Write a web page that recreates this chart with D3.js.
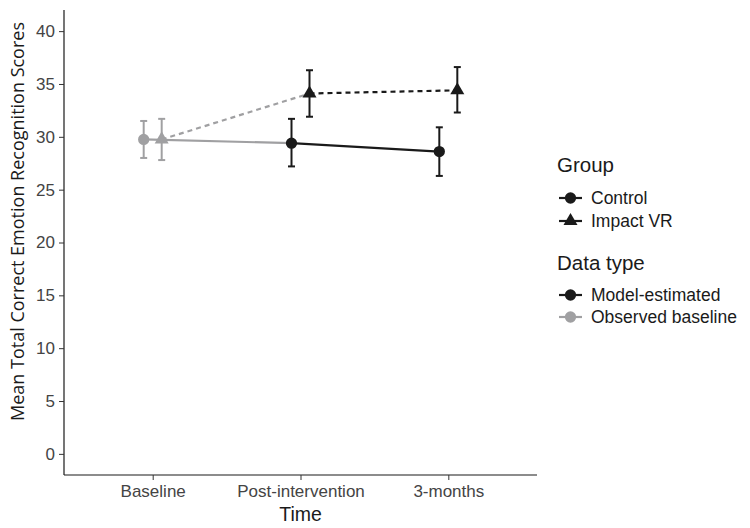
<!DOCTYPE html>
<html><head><meta charset="utf-8">
<script src="https://cdn.jsdelivr.net/npm/d3@7"></script>
<style>body{margin:0;background:#fff;} text{font-family:"Liberation Sans",Arial,sans-serif;}</style>
</head><body>
<svg id="c" width="750" height="528"></svg>
<script>
const timepoints = ["Baseline", "Post-intervention", "3-months"];
const groups = ["Control", "Impact VR"];
const controlMean = [29.75, 29.4, 28.6];
const controlLow = [28.0, 27.2, 26.3];
const controlHigh = [31.5, 31.7, 30.9];
const impactMean = [29.75, 34.1, 34.4];
const impactLow = [27.8, 31.9, 32.3];
const impactHigh = [31.7, 36.3, 36.6];
const dataTypes = ["Model-estimated", "Observed baseline"];
const yTicks = [0, 5, 10, 15, 20, 25, 30, 35, 40];

const black = "#1a1a1a", grey = "#a0a0a2";
const svg = d3.select("#c");
const L = 64, R = 537, T = 10, B = 475;

const x = d3.scalePoint().domain(timepoints).range([L, R]).padding(0.6);
const y = d3.scaleLinear().domain([-2, 42]).range([B, T]);
const dodge = d3.scaleBand().domain(groups).range([-18, 18]);
const off = g => dodge(g) + dodge.bandwidth() / 2;

// axes
const yAx = svg.append("g").attr("transform", `translate(${L},0)`)
  .call(d3.axisLeft(y).tickValues(yTicks).tickSize(5).tickPadding(4));
yAx.select(".domain").attr("d", `M0,${T}V${B}`).attr("stroke", black).attr("stroke-width", 1.2);
yAx.selectAll(".tick line").attr("stroke", "#333");
yAx.selectAll(".tick text").attr("font-size", 17).attr("fill", "#444")
   .attr("font-family", "Liberation Sans, Arial, sans-serif");

const xAx = svg.append("g").attr("transform", `translate(0,${B})`)
  .call(d3.axisBottom(x).tickSize(5).tickPadding(4));
xAx.select(".domain").attr("d", `M${L},0H${R}`).attr("stroke", black).attr("stroke-width", 1.2);
xAx.selectAll(".tick line").attr("stroke", "#333");
xAx.selectAll(".tick text").attr("font-size", 17).attr("fill", "#444")
   .attr("font-family", "Liberation Sans, Arial, sans-serif").attr("dy", "0.75em");

svg.append("text").attr("x", x("Post-intervention")).attr("y", 521).attr("text-anchor", "middle")
  .attr("font-size", 19.5).attr("fill", black).text("Time");
svg.append("text").attr("transform", `translate(24,221.5) rotate(-90)`)
  .attr("text-anchor", "middle").attr("font-size", 18).attr("fill", black)
  .style("font-family", "'Open Sans', sans-serif")
  .text("Mean Total Correct Emotion Recognition Scores");

const series = [
  {g: "Control", m: controlMean, lo: controlLow, hi: controlHigh, dash: null, shape: d3.symbolCircle},
  {g: "Impact VR", m: impactMean, lo: impactLow, hi: impactHigh, dash: "5,4", shape: d3.symbolTriangle}
];
const colorOf = i => i === 0 ? grey : black;  // baseline = observed, later = model-estimated

// lines
series.forEach(s => {
  const px = i => x(timepoints[i]) + off(s.g);
  svg.append("line").attr("x1", px(0)).attr("y1", y(s.m[0])).attr("x2", px(1)).attr("y2", y(s.m[1]))
    .attr("stroke", grey).attr("stroke-width", 2.2).attr("stroke-dasharray", s.dash);
  svg.append("line").attr("x1", px(1)).attr("y1", y(s.m[1])).attr("x2", px(2)).attr("y2", y(s.m[2]))
    .attr("stroke", black).attr("stroke-width", 2.2).attr("stroke-dasharray", s.dash);
});

// error bars and points
series.forEach(s => {
  timepoints.forEach((t, i) => {
    const cx = x(t) + off(s.g);
    const col = colorOf(i);
    const g = svg.append("g").attr("stroke", col).attr("stroke-width", 2);
    g.append("line").attr("x1", cx).attr("x2", cx).attr("y1", y(s.lo[i])).attr("y2", y(s.hi[i]));
    g.append("line").attr("x1", cx - 3.5).attr("x2", cx + 3.5).attr("y1", y(s.lo[i])).attr("y2", y(s.lo[i]));
    g.append("line").attr("x1", cx - 3.5).attr("x2", cx + 3.5).attr("y1", y(s.hi[i])).attr("y2", y(s.hi[i]));
    const size = s.shape === d3.symbolCircle ? 100 : 85;
    svg.append("path").attr("d", d3.symbol().type(s.shape).size(size)())
      .attr("transform", `translate(${cx},${y(s.m[i])})`)
      .attr("fill", col);
  });
});

// legend
const lg = svg.append("g").attr("transform", "translate(557,0)");
function title(txt, yy) {
  lg.append("text").attr("x", 0).attr("y", yy).attr("font-size", 20.5).attr("fill", black).text(txt);
}
function key(txt, yy, shape, col) {
  lg.append("line").attr("x1", 2).attr("x2", 25).attr("y1", yy).attr("y2", yy)
    .attr("stroke", col).attr("stroke-width", 2.2);
  lg.append("path").attr("d", d3.symbol().type(shape).size(shape === d3.symbolCircle ? 100 : 85)())
    .attr("transform", `translate(13.5,${yy})`).attr("fill", col);
  lg.append("text").attr("x", 34).attr("y", yy + 6).attr("font-size", 17.5).attr("fill", black).text(txt);
}
title("Group", 172);
key(groups[0], 198, d3.symbolCircle, black);
key(groups[1], 221, d3.symbolTriangle, black);
title("Data type", 270);
key(dataTypes[0], 295, d3.symbolCircle, black);
key(dataTypes[1], 317, d3.symbolCircle, grey);
</script>
</body></html>
